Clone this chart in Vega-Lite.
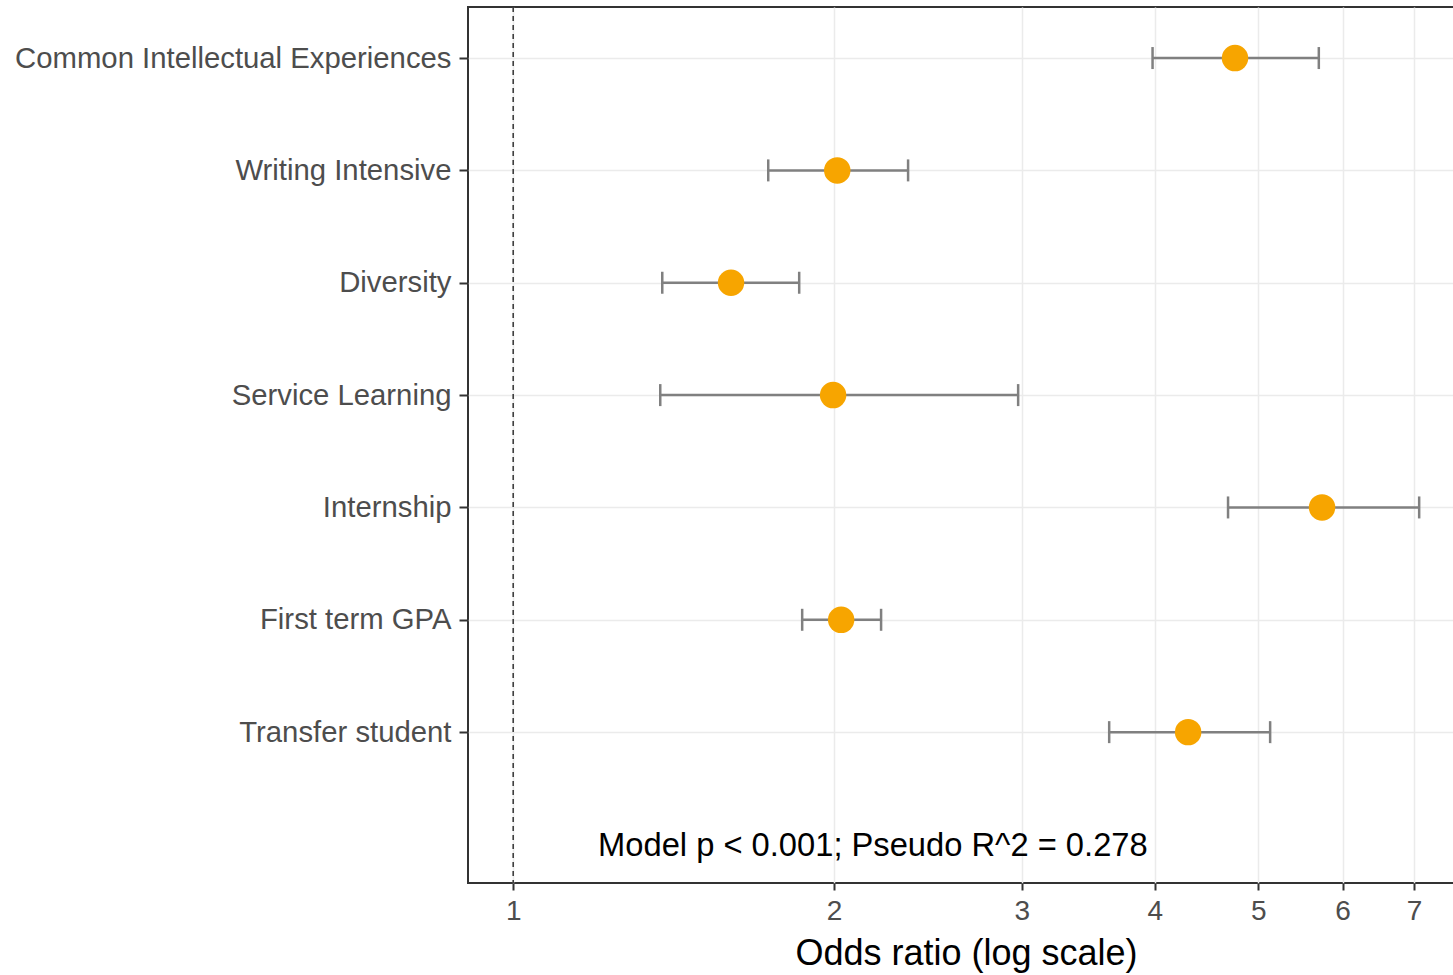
{
  "$schema": "https://vega.github.io/schema/vega-lite/v6.json",
  "autosize": "none",
  "padding": {"left": 468, "top": 7, "right": 0, "bottom": 92},
  "width": 996,
  "height": 876,
  "background": "white",
  "config": {
    "font": "Liberation Sans",
    "view": {"stroke": "#333333", "strokeWidth": 2}
  },
  "datasets": {
    "est": [
      {"term": "Common Intellectual Experiences", "or": 4.756, "lo": 3.98, "hi": 5.70},
      {"term": "Writing Intensive", "or": 2.014, "lo": 1.735, "hi": 2.347},
      {"term": "Diversity", "or": 1.601, "lo": 1.380, "hi": 1.855},
      {"term": "Service Learning", "or": 1.996, "lo": 1.374, "hi": 2.977},
      {"term": "Internship", "or": 5.74, "lo": 4.685, "hi": 7.08},
      {"term": "First term GPA", "or": 2.031, "lo": 1.867, "hi": 2.214},
      {"term": "Transfer student", "or": 4.298, "lo": 3.624, "hi": 5.131}
    ],
    "ref": [{"x": 1}],
    "note": [{"term": "note", "x": 2.175, "label": "Model p < 0.001; Pseudo R^2 = 0.278"}]
  },
  "encoding": {
    "y": {
      "field": "term",
      "type": "nominal",
      "scale": {
        "type": "point",
        "domain": ["Common Intellectual Experiences", "Writing Intensive", "Diversity", "Service Learning", "Internship", "First term GPA", "Transfer student", "note"],
        "padding": 0.3986,
        "align": 0.57
      },
      "axis": {
        "title": null,
        "values": ["Common Intellectual Experiences", "Writing Intensive", "Diversity", "Service Learning", "Internship", "First term GPA", "Transfer student"],
        "domain": false,
        "grid": true,
        "gridColor": "#EBEBEB",
        "gridWidth": 1.5,
        "tickColor": "#333333",
        "tickWidth": 2,
        "tickSize": 9,
        "labelPadding": 8,
        "labelFontSize": 29.3,
        "labelLimit": 0,
        "labelColor": "#4D4D4D",
        "labelFont": "Liberation Sans"
      }
    }
  },
  "layer": [
    {
      "data": {"name": "ref"},
      "mark": {"type": "rule", "color": "#333333", "strokeWidth": 1.5, "strokeDash": [5, 4]},
      "encoding": {
        "x": {
          "field": "x",
          "type": "quantitative",
          "scale": {"type": "log", "domain": [0.907, 7.80], "nice": false, "zero": false},
          "axis": {
            "title": "Odds ratio (log scale)",
            "values": [1, 2, 3, 4, 5, 6, 7],
            "format": "d",
            "domain": false,
            "grid": true,
            "gridColor": "#EBEBEB",
            "gridWidth": 1.5,
            "tickColor": "#333333",
            "tickWidth": 2,
            "tickSize": 7,
            "labelPadding": 7,
            "labelFontSize": 28,
            "labelColor": "#4D4D4D",
            "labelFont": "Liberation Sans",
            "titleFontSize": 36,
            "titleFontWeight": "normal",
            "titleColor": "#000000",
            "titleFont": "Liberation Sans",
            "titlePadding": 11
          }
        },
        "y": null
      }
    },
    {
      "data": {"name": "est"},
      "mark": {"type": "rule", "color": "#808080", "strokeWidth": 2.5},
      "encoding": {
        "x": {"field": "lo", "type": "quantitative"},
        "x2": {"field": "hi"}
      }
    },
    {
      "data": {"name": "est"},
      "mark": {"type": "tick", "color": "#808080", "thickness": 2.5, "size": 22, "opacity": 1},
      "encoding": {"x": {"field": "lo", "type": "quantitative"}}
    },
    {
      "data": {"name": "est"},
      "mark": {"type": "tick", "color": "#808080", "thickness": 2.5, "size": 22, "opacity": 1},
      "encoding": {"x": {"field": "hi", "type": "quantitative"}}
    },
    {
      "data": {"name": "est"},
      "mark": {"type": "circle", "color": "#F7A500", "size": 700, "opacity": 1},
      "encoding": {"x": {"field": "or", "type": "quantitative"}}
    },
    {
      "data": {"name": "note"},
      "mark": {"type": "text", "fontSize": 32.7, "color": "#000000", "align": "center", "baseline": "middle", "font": "Liberation Sans", "dy": 2},
      "encoding": {
        "x": {"field": "x", "type": "quantitative"},
        "text": {"field": "label"}
      }
    }
  ]
}
